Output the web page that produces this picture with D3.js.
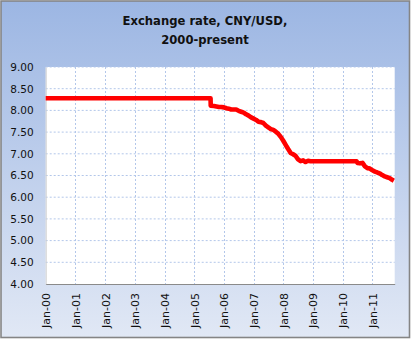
<!DOCTYPE html>
<html><head><meta charset="utf-8">
<script src="https://cdn.jsdelivr.net/npm/d3@7"></script>
<style>html,body{margin:0;padding:0;background:#fff;}svg{display:block;}</style>
</head><body>
<script>
const titleLines = ["Exchange rate, CNY/USD,", "2000-present"];
const yTicks = [4.0, 4.5, 5.0, 5.5, 6.0, 6.5, 7.0, 7.5, 8.0, 8.5, 9.0];
const xTickLabels = ["Jan-00","Jan-01","Jan-02","Jan-03","Jan-04","Jan-05","Jan-06","Jan-07","Jan-08","Jan-09","Jan-10","Jan-11"];
const dates = ["2000-01-01","2005-07-20","2005-07-22","2005-08-31","2005-09-30","2005-10-31","2005-11-30","2005-12-31",
 "2006-01-31","2006-02-28","2006-03-31","2006-04-30","2006-05-31","2006-06-30","2006-07-31","2006-08-31","2006-09-30","2006-10-31","2006-11-30","2006-12-31",
 "2007-01-31","2007-02-28","2007-03-31","2007-04-30","2007-05-31","2007-06-30","2007-07-31","2007-08-31","2007-09-30","2007-10-31","2007-11-30","2007-12-31",
 "2008-01-31","2008-02-29","2008-03-31","2008-04-30","2008-05-31","2008-06-30","2008-07-31","2008-08-31","2008-09-30","2008-10-31","2008-11-30","2008-12-31",
 "2009-06-30","2009-12-31","2010-06-18","2010-06-30","2010-07-31","2010-08-31","2010-09-30","2010-10-31","2010-11-30","2010-12-31",
 "2011-01-31","2011-02-28","2011-03-31","2011-04-30","2011-05-31","2011-06-30","2011-07-31","2011-08-31","2011-09-20"];
const rates = [8.28,8.28,8.11,8.10,8.09,8.08,8.08,8.07,
 8.05,8.04,8.02,8.02,8.02,7.99,7.97,7.95,7.91,7.88,7.84,7.81,
 7.78,7.74,7.73,7.71,7.65,7.61,7.57,7.55,7.51,7.46,7.39,7.30,
 7.20,7.11,7.02,6.99,6.95,6.87,6.83,6.85,6.81,6.84,6.83,6.83,
 6.83,6.83,6.83,6.79,6.78,6.79,6.71,6.67,6.66,6.62,
 6.59,6.57,6.55,6.51,6.48,6.46,6.44,6.40,6.38];

const W = 411, H = 339;
const margin = {left: 45.7, right: 394.7, top: 67, bottom: 284};
const svg = d3.select("body").append("svg").attr("width", W).attr("height", H);
const defs = svg.append("defs");
const grad = defs.append("linearGradient").attr("id","bg").attr("x1",0).attr("y1",0).attr("x2",0).attr("y2",1);
grad.append("stop").attr("offset","0%").attr("stop-color","#9cb6e3");
grad.append("stop").attr("offset","100%").attr("stop-color","#e1e8f5");
svg.append("rect").attr("x",1).attr("y",1).attr("width",W-2.5).attr("height",H-2.5)
  .attr("fill","url(#bg)").attr("stroke","#858585").attr("stroke-width",1.6);

const parse = d3.timeParse("%Y-%m-%d");
const data = dates.map((d,i)=>({date: parse(d), v: rates[i]}));
const x = d3.scaleTime().domain([new Date(2000,0,1), new Date(2011,9,1)]).range([margin.left, margin.right]);
const y = d3.scaleLinear().domain([4,9]).range([margin.bottom, margin.top]);

svg.append("rect").attr("x",margin.left).attr("y",margin.top)
  .attr("width",margin.right-margin.left).attr("height",margin.bottom-margin.top).attr("fill","#fff");

const xTickDates = xTickLabels.map((_,i)=>new Date(2000+i,0,1));
svg.append("g").selectAll("line.h").data(yTicks.filter(t=>t>4)).join("line")
  .attr("x1",margin.left).attr("x2",margin.right).attr("y1",d=>y(d)).attr("y2",d=>y(d))
  .attr("stroke","#b3c7ea").attr("stroke-width",1).attr("stroke-dasharray","2,2");
svg.append("g").selectAll("line.v").data(xTickDates.slice(1)).join("line")
  .attr("x1",d=>Math.round(x(d))+0.5).attr("x2",d=>Math.round(x(d))+0.5).attr("y1",margin.top).attr("y2",margin.bottom)
  .attr("stroke","#b3c7ea").attr("stroke-width",1).attr("stroke-dasharray","2,2");

const yAxis = d3.axisLeft(y).tickValues(yTicks).tickFormat(d3.format(".2f")).tickSize(0).tickPadding(12);
const gy = svg.append("g").attr("transform",`translate(${margin.left},0)`).call(yAxis);
gy.select(".domain").attr("stroke","#d0d0d0");
gy.selectAll("text").attr("font-family","DejaVu Sans").attr("font-size","10.5px").attr("fill","#111");

const xAxis = d3.axisBottom(x).tickValues(xTickDates).tickFormat((d,i)=>xTickLabels[i]).tickSize(0);
const gx = svg.append("g").attr("transform",`translate(0,${margin.bottom})`).call(xAxis);
gx.select(".domain").attr("stroke","#8a8a8a").attr("stroke-width",1.2);
gx.selectAll("text").attr("font-family","DejaVu Sans").attr("font-size","11px").attr("fill","#111")
  .attr("transform","rotate(-90)").attr("text-anchor","end").attr("x",-9).attr("y",0).attr("dy","0.35em");

const line = d3.line().x(d=>x(d.date)).y(d=>y(d.v));
svg.append("path").datum(data).attr("d",line).attr("fill","none").attr("stroke","#ff0000")
  .attr("stroke-width",4.6).attr("stroke-linejoin","round");

svg.append("g").selectAll("text").data(titleLines).join("text")
  .attr("x",205).attr("y",(d,i)=>25+i*19).attr("text-anchor","middle")
  .attr("font-family","DejaVu Sans").attr("font-weight","bold").attr("font-size","11.6px").attr("fill","#111")
  .text(d=>d);
</script>
</body></html>
